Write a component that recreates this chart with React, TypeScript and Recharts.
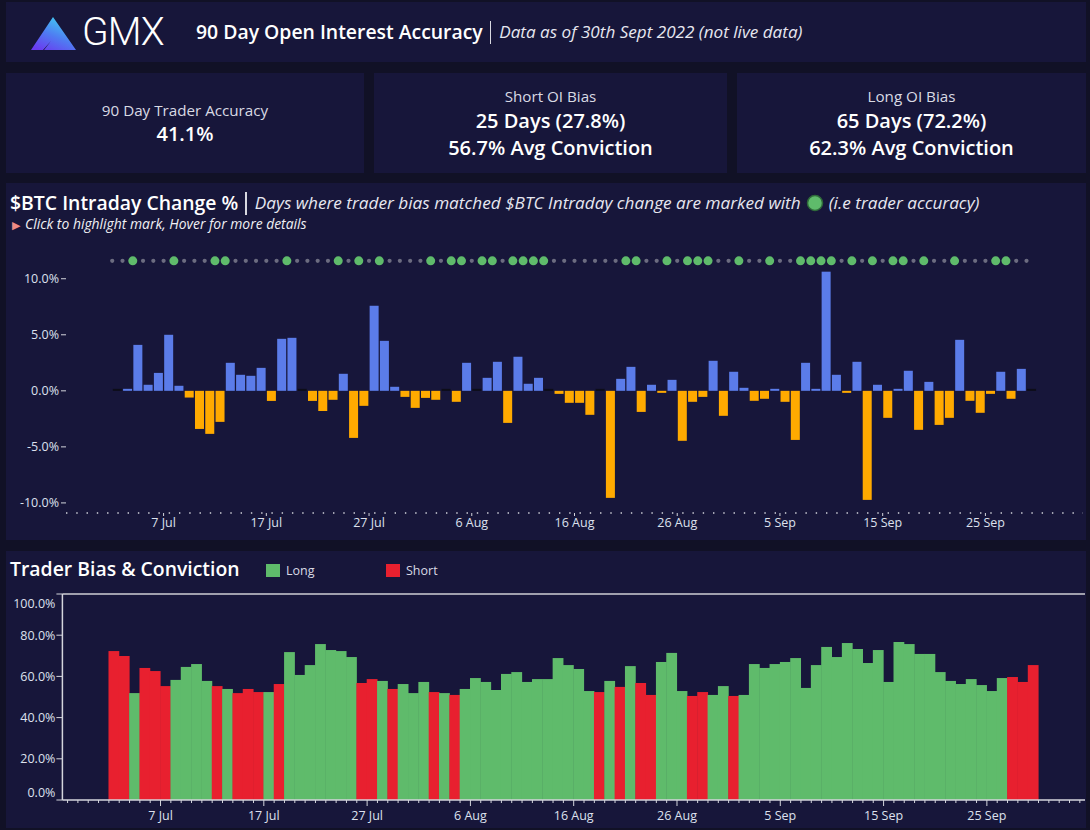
import React from "react";
import {
  Bar,
  BarChart,
  ComposedChart,
  ReferenceLine,
  Scatter,
  XAxis,
  YAxis,
} from "recharts";

// one value per day, 2 Jul 2022 .. 29 Sep 2022 (index 0 = 2 Jul)
const btcChange = [
  0, 0.1, 4.1, 0.54, 1.6, 5.0, 0.45, -0.6, -3.4, -3.84,
  -2.77, 2.5, 1.43, 1.34, 2.05, -0.9, 4.64, 4.73, 0, -0.9,
  -1.8, -0.8, 1.52, -4.2, -1.34, 7.59, 4.46, 0.36, -0.54, -1.52,
  -0.63, -0.8, 0, -0.98, 2.5, 0, 1.16, 2.59, -2.86, 3.04,
  0.63, 1.16, 0.02, -0.27, -1.07, -1.07, -2.14, 0, -9.55, 1.07,
  2.14, -1.88, 0.54, -0.18, 0.98, -4.46, -0.98, -0.54, 2.68, -2.23,
  1.7,
  0.27, -0.89, -0.71, 0.09, -0.98, -4.38, 2.5, 0.09, 10.63, 1.43,
  -0.18, 2.59, -9.73, 0.54, -2.41, 0.09, 1.79, -3.48, 0.8, -3.04,
  -2.41, 4.55, -0.89, -1.96, -0.27, 1.7, -0.71, 1.96, 0,
];

// trader OI bias per day: L = long, S = short
const bias = [
  "S", "S", "L", "S", "S", "S", "L", "L", "L", "L",
  "S", "L", "S", "S", "S", "L", "S", "L", "L", "L",
  "L", "L", "L", "L", "S", "S", "L", "S", "L", "L",
  "L", "S", "L", "S", "L", "L", "L", "L", "L", "L",
  "L", "L", "L", "L", "L", "L", "L", "S", "L", "S",
  "L", "S", "S", "L", "L", "L", "S", "S", "L", "L",
  "S",
  "L", "L", "L", "L", "L", "L", "L", "L", "L", "L",
  "L", "L", "L", "L", "L", "L", "L", "L", "L", "L",
  "L", "L", "L", "L", "L", "L", "S", "S", "S",
];

// conviction (% of OI on the biased side)
const conviction = [
  72.3, 69.9, 51.9, 64.1, 62.6, 55.3, 58.3, 64.6, 66.0, 57.8,
  55.3, 53.9, 51.9, 53.9, 52.4, 52.4, 56.3, 71.8, 60.7, 65.5,
  75.7, 72.8, 72.3, 69.4, 56.8, 58.7, 57.8, 53.9, 56.3, 51.9,
  57.3, 52.4, 51.9, 51.0, 53.9, 59.2, 57.3, 53.4, 61.2, 62.1,
  57.3, 58.7, 58.7, 68.9, 65.5, 63.6, 52.9, 52.4, 57.8, 54.9,
  65.0, 56.8, 51.0, 67.0, 71.4, 52.9, 50.5, 52.4, 51.0, 55.3,
  50.5,
  51.0, 66.0, 64.1, 66.0, 67.0, 68.9, 54.4, 65.5, 74.3, 69.4,
  76.2, 73.3, 66.5, 72.8, 57.3, 76.7, 75.7, 70.9, 70.9, 62.1,
  57.8, 56.3, 58.7, 55.8, 52.9, 59.2, 59.7, 57.3, 65.5,
];

const tickDays = [5, 15, 25, 35, 45, 55, 65, 75, 85];
const tickLabels = ["7 Jul", "17 Jul", "27 Jul", "6 Aug", "16 Aug", "26 Aug", "5 Sep", "15 Sep", "25 Sep"];

const changeTicks = [-10, -5, 0, 5, 10];
const convictionTicks = [0, 20, 40, 60, 80, 100];

const X_DOMAIN: [number, number] = [-4.5, 94.5];
const DOT_LEVEL = 11.6;
const CHANGE_BAR_W = 9;

const PAGE_BG = "#111126";
const PANEL_BG = "#17163a";
const AXIS = "#d4d5dc";
const TICK_TEXT = "#dde1ee";
const BLUE = "#5b7ce9";
const ORANGE = "#ffaa00";
const GREEN = "#5fbb6b";
const RED = "#e8202f";
const FONT = "'Open Sans', 'Noto Sans', sans-serif";

// bars span the day (x = day + 0.5); accuracy dots sit on the day itself
const changeRows = btcChange.map((v, i) => ({ x: i + 0.5, change: v }));
const dotRows = btcChange.map((v, i) => ({
  x: i,
  y: DOT_LEVEL,
  hit: (bias[i] === "L" && v > 0) || (bias[i] === "S" && v < 0),
}));
const convictionRows = conviction.map((v, i) => ({ x: i + 0.5, conviction: v, side: bias[i] }));

const minorDays = Array.from({ length: 99 }, (_, k) => k - 4);

const dayLabel = (d: number) => tickLabels[tickDays.indexOf(d)] ?? "";

function ChangeBar(props: any) {
  const { x, y, width, height, payload } = props;
  const v = payload.change;
  const left = x + width / 2 - CHANGE_BAR_W / 2;
  const top = Math.min(y, y + height);
  const h = Math.abs(height);
  if (Math.abs(v) < 0.05) {
    return <rect x={left} y={top} width={CHANGE_BAR_W} height={2} fill="#0d0d18" />;
  }
  return <rect x={left} y={top} width={CHANGE_BAR_W} height={h} fill={v > 0 ? BLUE : ORANGE} />;
}

function AccuracyDot(props: any) {
  const { cx, cy, payload } = props;
  if (payload.hit) return <circle cx={cx} cy={cy} r={4.5} fill={GREEN} />;
  return <circle cx={cx} cy={cy} r={2.1} fill="#6c6c80" />;
}

function BiasBar(props: any) {
  const { x, y, width, height, payload } = props;
  const top = Math.min(y, y + height);
  return (
    <rect
      x={x - 0.4}
      y={top}
      width={width + 0.8}
      height={Math.abs(height)}
      fill={payload.side === "L" ? GREEN : RED}
    />
  );
}

function DayTick({ x, y, payload }: any) {
  const i = tickDays.indexOf(payload.value);
  return (
    <g>
      <line x1={x} x2={x} y1={y} y2={y + (i >= 0 ? 6 : 3)} stroke={AXIS} />
      {i >= 0 && (
        <text x={x} y={y + 20} textAnchor="middle" fill={TICK_TEXT} fontSize={12.5} fontFamily={FONT}>
          {tickLabels[i]}
        </text>
      )}
    </g>
  );
}

function PctTick({ x, y, payload }: any) {
  // end labels are pulled inside the plot
  const shift = payload.value === 100 ? 9 : payload.value === 0 ? -8 : 0;
  return (
    <text x={x} y={y + shift} dy={4.5} textAnchor="end" fill={TICK_TEXT} fontSize={12.5} fontFamily={FONT}>
      {payload.value.toFixed(1)}%
    </text>
  );
}

function BtcChangeChart() {
  return (
    <ComposedChart
      width={1080}
      height={306}
      data={changeRows}
      margin={{ top: 10, right: 3, bottom: 0, left: 0 }}
    >
      <XAxis
        dataKey="x"
        type="number"
        domain={X_DOMAIN}
        ticks={tickDays}
        interval={0}
        allowDataOverflow
        height={27}
        tickFormatter={dayLabel}
        axisLine={{ stroke: AXIS, strokeWidth: 1.4, strokeDasharray: "1.4 8.87" }}
        tickLine={{ stroke: AXIS }}
        tickSize={3}
        tickMargin={2}
        tick={{ fill: TICK_TEXT, fontSize: 12.5, fontFamily: FONT }}
      />
      <YAxis
        type="number"
        domain={[-10.9, 13.1]}
        ticks={changeTicks}
        interval={0}
        allowDataOverflow
        width={60}
        axisLine={false}
        tickLine={{ stroke: AXIS }}
        tickSize={5}
        tickMargin={2}
        tickFormatter={(v: number) => `${v.toFixed(1)}%`}
        tick={{ fill: TICK_TEXT, fontSize: 12.5, fontFamily: FONT }}
      />
      <Bar dataKey="change" minPointSize={2} shape={ChangeBar} isAnimationActive={false} />
      <Scatter data={dotRows} dataKey="y" shape={AccuracyDot} isAnimationActive={false} />
    </ComposedChart>
  );
}

function ConvictionChart() {
  return (
    <BarChart
      width={1080}
      height={244}
      data={convictionRows}
      margin={{ top: 10, right: 1, bottom: 0, left: 0 }}
    >
      <XAxis
        dataKey="x"
        type="number"
        domain={X_DOMAIN}
        ticks={minorDays}
        interval={0}
        allowDataOverflow
        height={28}
        axisLine={{ stroke: AXIS, strokeWidth: 1.5 }}
        tickLine={false}
        tickSize={0}
        tickMargin={0}
        tick={<DayTick />}
      />
      <YAxis
        type="number"
        domain={[0, 100]}
        ticks={convictionTicks}
        interval={0}
        width={56.4}
        axisLine={{ stroke: AXIS, strokeWidth: 1.5 }}
        tickLine={{ stroke: AXIS }}
        tickSize={6}
        tickMargin={1}
        tick={<PctTick />}
      />
      <ReferenceLine y={100} stroke="#cfcfd4" strokeWidth={1.5} />
      <Bar dataKey="conviction" barSize={10} shape={BiasBar} isAnimationActive={false} />
    </BarChart>
  );
}

function Panel({ x, y, w, h, children }: any) {
  return (
    <div style={{ position: "absolute", left: x, top: y, width: w, height: h, background: PANEL_BG }}>
      {children}
    </div>
  );
}

function Divider({ h }: { h: number }) {
  return (
    <span
      style={{ display: "inline-block", width: 1.5, height: h, background: "#d8d8e0", margin: "0 8px 0 7px" }}
    />
  );
}

function Stat({ x, w, lines }: { x: number; w: number; lines: { text: string; top: number; big?: boolean }[] }) {
  return (
    <Panel x={x} y={73} w={w} h={100}>
      {lines.map((l) => (
        <div
          key={l.text}
          style={{
            position: "absolute",
            left: 0,
            width: w,
            top: l.top - 73 - (l.big ? 14 : 10),
            textAlign: "center",
            fontSize: l.big ? 20 : 15.2,
            lineHeight: l.big ? "28px" : "20px",
            fontWeight: l.big ? 600 : 400,
            color: l.big ? "#ffffff" : "#d9dae4",
          }}
        >
          {l.text}
        </div>
      ))}
    </Panel>
  );
}

function Logo() {
  return (
    <svg width={50} height={40} style={{ position: "absolute", left: 22, top: 13 }}>
      <defs>
        <linearGradient id="gmxGrad" x1="0.8" y1="0" x2="0.2" y2="1">
          <stop offset="0%" stopColor="#3fd6f2" />
          <stop offset="55%" stopColor="#4f7cf2" />
          <stop offset="100%" stopColor="#6a3cf0" />
        </linearGradient>
      </defs>
      <path
        d="M25 2 L48 35 L30 35 L23 26 L15 35 L3 35 Z M23 26 L30 35 L16 35 Z"
        fill="url(#gmxGrad)"
        fillRule="evenodd"
      />
    </svg>
  );
}

export default function App() {
  return (
    <div
      style={{
        position: "relative",
        width: 1090,
        height: 830,
        background: PAGE_BG,
        overflow: "hidden",
        fontFamily: FONT,
        color: "#fff",
      }}
    >
      <style>{"body{margin:0;background:#111126}"}</style>

      <Panel x={6} y={2} w={1080} h={60}>
        <Logo />
        <div
          style={{
            position: "absolute",
            left: 76,
            top: 7,
            fontSize: 39,
            fontWeight: 300,
            fontFamily: "Roboto, sans-serif",
            letterSpacing: -1,
            lineHeight: "46px",
          }}
        >
          GMX
        </div>
        <div
          style={{
            position: "absolute",
            left: 190,
            top: 16,
            whiteSpace: "nowrap",
            lineHeight: "28px",
            display: "flex",
            alignItems: "center",
          }}
        >
          <span style={{ fontSize: 19.4, fontWeight: 600 }}>90 Day Open Interest Accuracy</span>
          <Divider h={23} />
          <span style={{ fontSize: 17.1, fontStyle: "italic", color: "#e6e7f0" }}>
            Data as of 30th Sept 2022 (not live data)
          </span>
        </div>
      </Panel>

      <Stat
        x={6}
        w={358}
        lines={[
          { text: "90 Day Trader Accuracy", top: 110 },
          { text: "41.1%", top: 134, big: true },
        ]}
      />
      <Stat
        x={374}
        w={353}
        lines={[
          { text: "Short OI Bias", top: 96 },
          { text: "25 Days (27.8%)", top: 121, big: true },
          { text: "56.7% Avg Conviction", top: 148, big: true },
        ]}
      />
      <Stat
        x={737}
        w={349}
        lines={[
          { text: "Long OI Bias", top: 96 },
          { text: "65 Days (72.2%)", top: 121, big: true },
          { text: "62.3% Avg Conviction", top: 148, big: true },
        ]}
      />

      <Panel x={6} y={183} w={1080} h={357}>
        <div
          style={{
            position: "absolute",
            left: 4,
            top: 6,
            whiteSpace: "nowrap",
            lineHeight: "28px",
            display: "flex",
            alignItems: "center",
          }}
        >
          <span style={{ fontSize: 19.4, fontWeight: 600 }}>$BTC Intraday Change %</span>
          <Divider h={23} />
          <span style={{ fontSize: 17.2, fontStyle: "italic", color: "#e6e7f0" }}>
            Days where trader bias matched $BTC Intraday change are marked with
          </span>
          <svg width={18} height={18} style={{ margin: "0 5px 0 5px" }}>
            <circle cx={9} cy={9} r={7.5} fill={GREEN} stroke="#2f6a3a" strokeWidth={1.5} />
          </svg>
          <span style={{ fontSize: 17.2, fontStyle: "italic", color: "#e6e7f0" }}>(i.e trader accuracy)</span>
        </div>
        <div
          style={{
            position: "absolute",
            left: 6,
            top: 32,
            whiteSpace: "nowrap",
            fontSize: 13.9,
            fontStyle: "italic",
            color: "#f0f0f4",
            lineHeight: "18px",
          }}
        >
          <span style={{ color: "#f08a84", fontStyle: "normal", fontSize: 11, marginRight: 5 }}>▶</span>
          Click to highlight mark, Hover for more details
        </div>
        <div style={{ position: "absolute", left: 0, top: 51 }}>
          <BtcChangeChart />
        </div>
      </Panel>

      <Panel x={6} y={551} w={1080} h={277}>
        <div style={{ position: "absolute", left: 4, top: 4, fontSize: 19.4, fontWeight: 600, lineHeight: "28px" }}>
          Trader Bias &amp; Conviction
        </div>
        <div
          style={{
            position: "absolute",
            left: 260,
            top: 11,
            display: "flex",
            alignItems: "center",
            fontSize: 12.5,
            color: "#d9dae4",
          }}
        >
          <span style={{ width: 14, height: 13, background: GREEN, display: "inline-block", marginRight: 6 }} />
          <span style={{ width: 100 }}>Long</span>
          <span style={{ width: 14, height: 13, background: RED, display: "inline-block", marginRight: 6 }} />
          <span>Short</span>
        </div>
        <div style={{ position: "absolute", left: 0, top: 33 }}>
          <ConvictionChart />
        </div>
      </Panel>
    </div>
  );
}
